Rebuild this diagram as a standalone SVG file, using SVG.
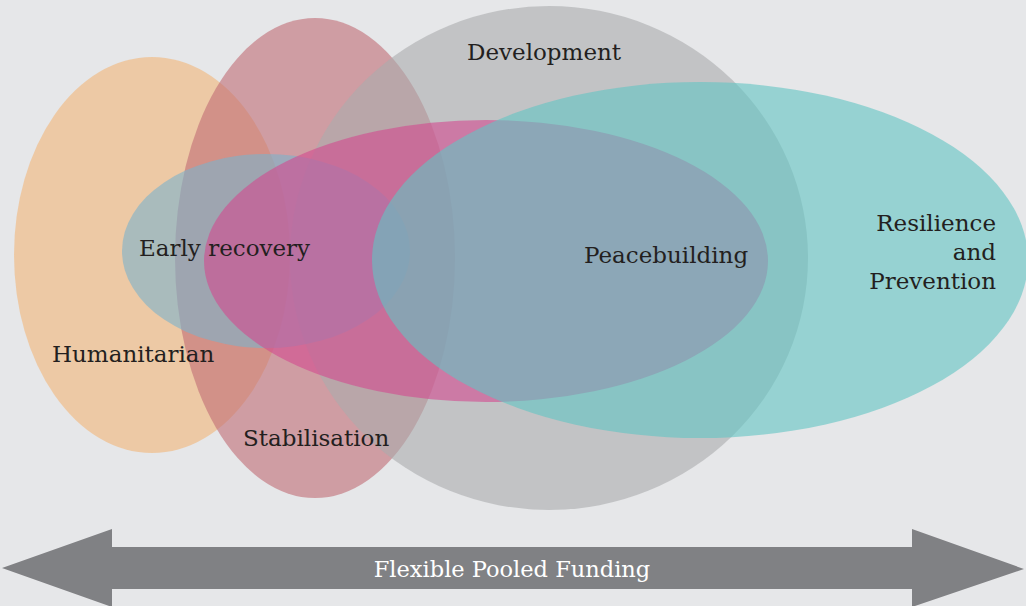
<svg xmlns="http://www.w3.org/2000/svg" width="1026" height="606" viewBox="0 0 1026 606">
<style>
.lbl{font-family:"DejaVu Serif","Liberation Serif",serif;font-size:23px;fill:#231f20}
.arrowlbl{font-family:"DejaVu Serif","Liberation Serif",serif;font-size:22.5px;fill:#ffffff}
.e{fill-opacity:0.6}
</style>
<rect width="1026" height="606" fill="#e6e7e9"/>
<g id="humanitarian"><ellipse class="e" cx="152" cy="255" rx="138" ry="198" fill="#f2b578"/></g>
<g id="stabilisation"><ellipse class="e" cx="315" cy="258" rx="140" ry="240" fill="#c06c74"/></g>
<g id="development"><ellipse class="e" cx="549" cy="258" rx="259" ry="252" fill="#aaabad"/></g>
<g id="early-recovery"><ellipse class="e" cx="266" cy="251" rx="144" ry="97" fill="#7bb3cb"/></g>
<g id="peacebuilding"><ellipse class="e" cx="486" cy="261" rx="282" ry="141" fill="#d24a90"/></g>
<g id="resilience"><ellipse class="e" cx="700" cy="260" rx="328" ry="178" fill="#61c4c3"/></g>
<g id="labels">
<text class="lbl" x="467" y="60">Development</text>
<text class="lbl" x="139" y="256">Early recovery</text>
<text class="lbl" x="584" y="263">Peacebuilding</text>
<text class="lbl" x="996" y="231" text-anchor="end">Resilience</text>
<text class="lbl" x="996" y="260" text-anchor="end">and</text>
<text class="lbl" x="996" y="289" text-anchor="end">Prevention</text>
<text class="lbl" x="52" y="362">Humanitarian</text>
<text class="lbl" x="243" y="446">Stabilisation</text>
</g>
<g id="connectors">
<path d="M2,568 L112,529 L112,547 L912,547 L912,529 L1024,569 L912,607 L912,589 L112,589 L112,607 Z" fill="#808184"/>
<text class="arrowlbl" x="512" y="577" text-anchor="middle">Flexible Pooled Funding</text>
</g>
</svg>
